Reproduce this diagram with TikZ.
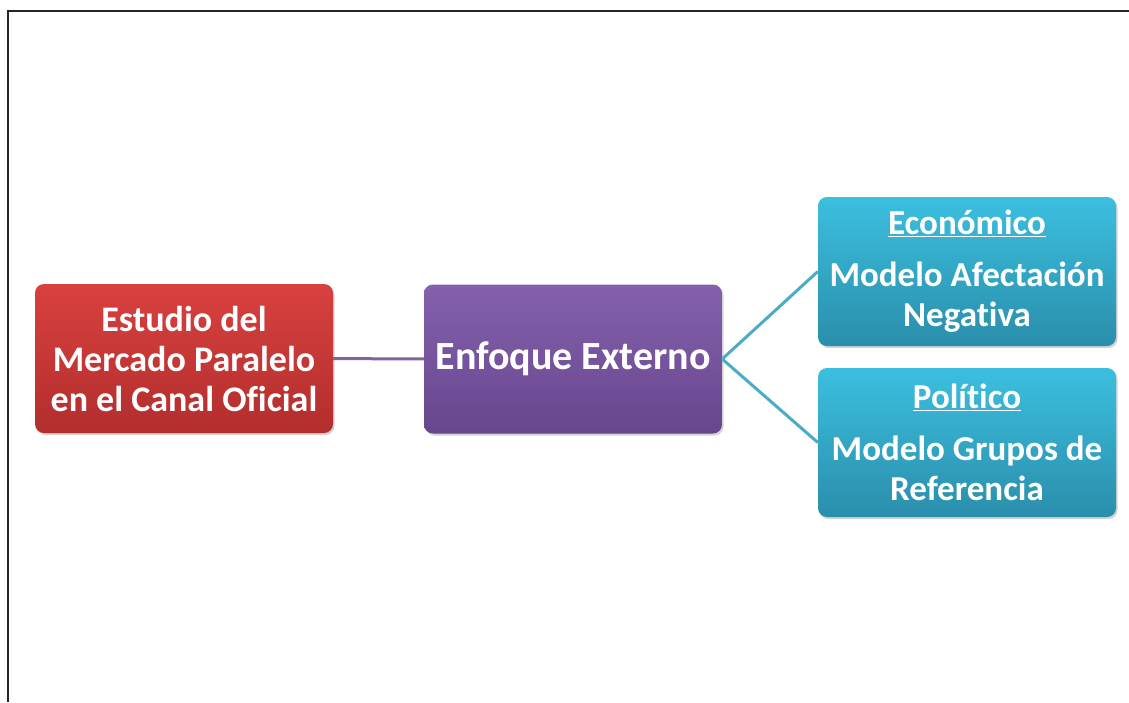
\documentclass[tikz,border=0pt]{standalone}
\usepackage{fontspec}
\setmainfont[Ligatures=NoCommon]{Carlito}
\usetikzlibrary{shadows}
\definecolor{redtop}{HTML}{D8413F}
\definecolor{redbot}{HTML}{B22E2D}
\definecolor{purtop}{HTML}{8561AD}
\definecolor{purbot}{HTML}{68468E}
\definecolor{bluetop}{HTML}{3CBFDF}
\definecolor{bluebot}{HTML}{2A8EAB}
\definecolor{purline}{HTML}{8064A2}
\definecolor{blueline}{HTML}{4BACC6}
\tikzset{
  box/.style={rounded corners=9pt, minimum width=298pt, minimum height=149pt,
    align=center, text=white, inner sep=2pt,
    font=\fontsize{35}{40}\selectfont\bfseries,
    drop shadow={shadow xshift=1.5pt, shadow yshift=-2pt, opacity=0.35}},
  redbox/.style={box, top color=redtop, bottom color=redbot,
    font=\fontsize{36}{40}\selectfont\bfseries},
  purbox/.style={box, top color=purtop, bottom color=purbot,
    font=\fontsize{40}{44}\selectfont\bfseries},
  bluebox/.style={box, top color=bluetop, bottom color=bluebot},
}
\begin{document}
\begin{tikzpicture}[x=1pt,y=-1pt]
            \useasboundingbox (0,0) rectangle (1129,702);
            \draw[line width=2pt, black!85] (7.5,702) -- (7.5,10.5) -- (1129,10.5);

            %Nodes
            \node[redbox]  at (184,358.5) (estudio)  {Estudio del\\Mercado Paralelo\\en el Canal Oficial};
            \node[purbox]  at (573,359)   (enfoque)  {Enfoque Externo};
            \node[bluebox] at (967,271.5) (economico) {\underline{Económico}\\[12pt]Modelo Afectación\\Negativa};
            \node[bluebox] at (967,442.5) (politico)  {\underline{Político}\\[12pt]Modelo Grupos de\\Referencia};

            %Lines
            \draw[purline, line width=3pt] (estudio) -- (enfoque);
            \draw[blueline, line width=3pt] (enfoque.east) -- (economico.west);
            \draw[blueline, line width=3pt] (enfoque.east) -- (politico.west);
\end{tikzpicture}
\end{document}
